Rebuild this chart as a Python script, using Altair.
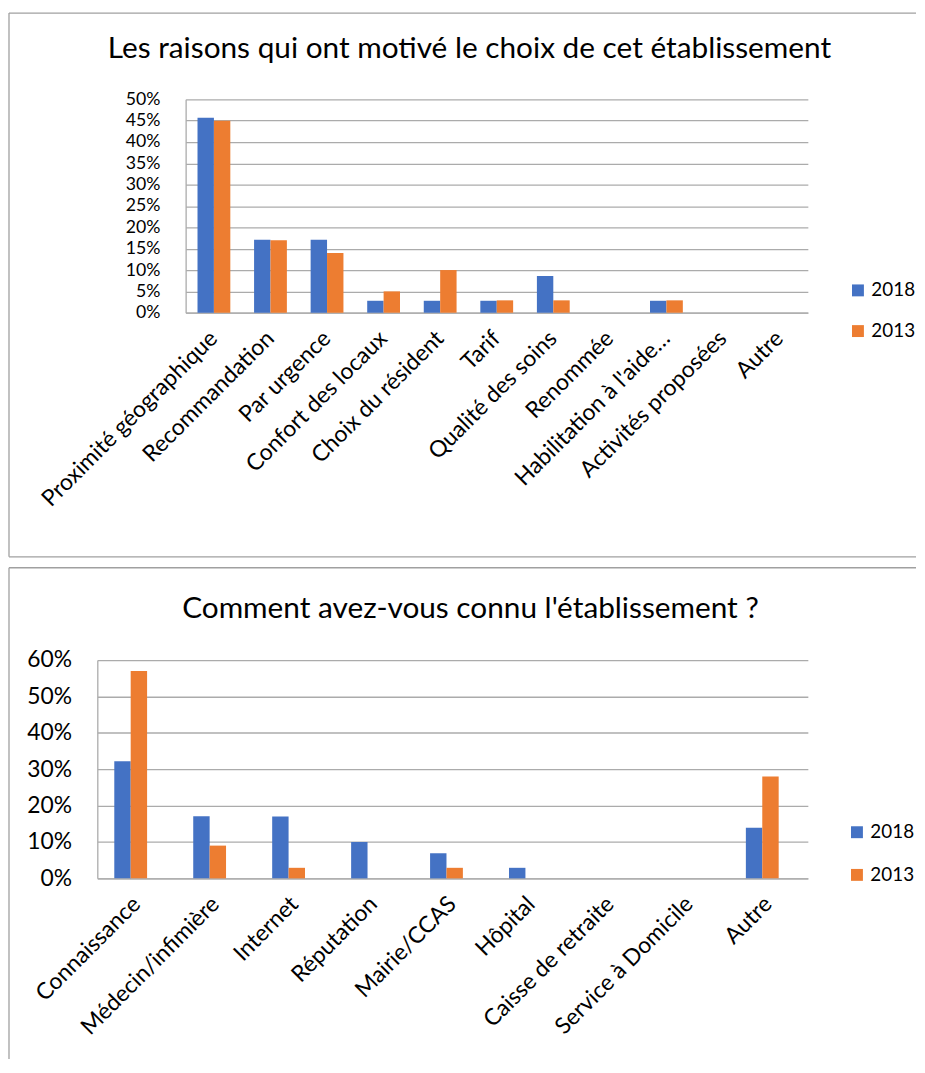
import altair as alt
import pandas as pd

FONT = "Lato"
GRID = "#ababab"
FRAME = "#a0a0a0"

years = ["2018", "2013"]
colors = ["#4472C4", "#ED7D31"]

title1 = "Les raisons qui ont motivé le choix de cet établissement"
cats1 = ["Proximité géographique", "Recommandation", "Par urgence", "Confort des locaux",
         "Choix du résident", "Tarif", "Qualité des soins", "Renommée",
         "Habilitation à l'aide…", "Activités proposées", "Autre"]
v2018_1 = [45.7, 17.1, 17.1, 2.8, 2.8, 2.8, 8.6, 0, 2.8, 0, 0]
v2013_1 = [45.0, 17.0, 14.0, 5.0, 10.0, 2.9, 2.9, 0, 2.9, 0, 0]
ticks1 = [0, 0.05, 0.10, 0.15, 0.20, 0.25, 0.30, 0.35, 0.40, 0.45, 0.50]

title2 = "Comment avez-vous connu l'établissement ?"
cats2 = ["Connaissance", "Médecin/infimière", "Internet", "Réputation", "Mairie/CCAS",
         "Hôpital", "Caisse de retraite", "Service à Domicile", "Autre"]
v2018_2 = [32.2, 17.1, 17.0, 10.0, 6.9, 2.9, 0, 0, 13.9]
v2013_2 = [57.0, 9.0, 2.9, 0, 2.9, 0, 0, 0, 28.0]
ticks2 = [0, 0.10, 0.20, 0.30, 0.40, 0.50, 0.60]


def make_df(cats, a, b):
    rows = []
    for c, x, y in zip(cats, a, b):
        rows.append({"cat": c, "year": "2018", "value": x / 100})
        rows.append({"cat": c, "year": "2013", "value": y / 100})
    return pd.DataFrame(rows)


one = pd.DataFrame([{"k": 0}])

W = 716  # common plot width, both panels share the same left edge


def panel(df, cats, title, H, ticks, pad_inner, xstart, frame, tpos, tsize, lpos, lrow,
          ylab):
    fx, fy1, fy2, fx2, bottom_edge = frame
    bars = alt.Chart(df).mark_bar().encode(
        x=alt.X("cat:N", sort=cats,
                scale=alt.Scale(range=[xstart, W], paddingInner=pad_inner,
                                paddingOuter=pad_inner / 2),
                axis=alt.Axis(title=None, labelAngle=-45, labelAlign="right",
                              labelBaseline="middle", labelPadding=22, ticks=False,
                              tickSize=0, domainColor=GRID, domainWidth=1.3,
                              labelFontSize=23, labelLimit=0, labelColor="black",
                              labelFont=FONT, labelOverlap=False)),
        xOffset=alt.XOffset("year:N", sort=years),
        y=alt.Y("value:Q", scale=alt.Scale(domain=[0, ticks[-1]], nice=False),
                axis=alt.Axis(title=None, format=".0%", values=ticks, ticks=False,
                              tickSize=0, labelPadding=26, domainColor=GRID,
                              domainWidth=1.3, gridColor=GRID, gridWidth=1.3,
                              labelFontSize=ylab, labelColor="black", labelFont=FONT,
                              labelOverlap=False, offset=-xstart)),
        color=alt.Color("year:N", sort=years,
                        scale=alt.Scale(domain=years, range=colors),
                        legend=alt.Legend(title=None, orient="none", legendX=lpos[0],
                                          legendY=lpos[1], symbolType="square",
                                          symbolSize=144, symbolStrokeWidth=0,
                                          symbolOpacity=1, labelFontSize=19,
                                          labelFont=FONT, labelColor="black",
                                          rowPadding=lrow, labelOffset=4, padding=0)),
    ).properties(width=W, height=H)

    left = alt.Chart(one).mark_rule(color=FRAME, strokeWidth=1.3).encode(
        x=alt.value(fx), y=alt.value(fy1), y2=alt.value(fy2))
    top = alt.Chart(one).mark_rule(color=FRAME, strokeWidth=1.3).encode(
        x=alt.value(fx), x2=alt.value(fx2), y=alt.value(fy1))
    layers = [left, top]
    if bottom_edge:
        layers.append(alt.Chart(one).mark_rule(color=FRAME, strokeWidth=1.3).encode(
            x=alt.value(fx), x2=alt.value(fx2), y=alt.value(fy2)))
    ttl = alt.Chart(one).mark_text(font=FONT, fontSize=tsize, align="center",
                                   baseline="middle", color="black").encode(
        x=alt.value(tpos[0]), y=alt.value(tpos[1]), text=alt.value(title))
    layers.append(ttl)
    layers.append(bars)
    return alt.layer(*layers)


p1 = panel(make_df(cats1, v2018_1, v2013_1), cats1, title1, 215, ticks1, 0.42, 89,
           (-89, -87, 461, 825, True), (375, -51), 30, (757, 183), 21, 17.8)
p2 = panel(make_df(cats2, v2018_2, v2013_2), cats2, title2, 220, ticks2, 0.43, 0,
           (-89, -93, 402, 825, False), (376, -51), 30, (756, 164), 23, 23)

chart = alt.concat(p1, p2, columns=1, spacing=9).resolve_scale(
    color="independent").properties(padding=0, background="white").configure_view(
    stroke=None)

chart.save("out.html", embed_options={"renderer": "svg", "actions": False})
